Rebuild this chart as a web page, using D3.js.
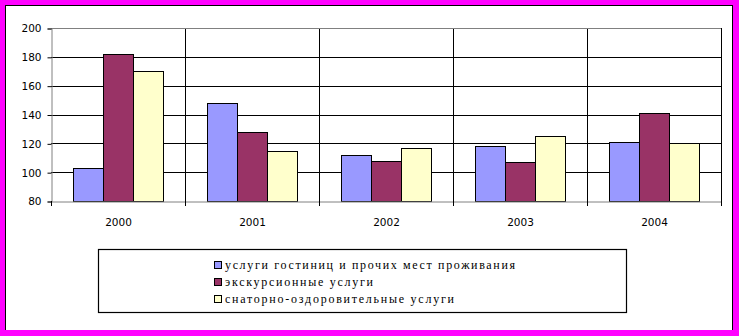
<!DOCTYPE html>
<html>
<head>
<meta charset="utf-8">
<script src="https://cdn.jsdelivr.net/npm/d3@7"></script>
<style>
  body { margin: 0; background: #ff00ff; }
  svg { display: block; }
</style>
</head>
<body>
<script>
const years = ['2000', '2001', '2002', '2003', '2004'];
const seriesNames = [
  'услуги гостиниц и прочих мест проживания',
  'экскурсионные услуги',
  'снаторно-оздоровительные услуги'
];
const hotels = [103, 148, 112, 118, 121];
const excursions = [182, 128, 107.5, 107, 141];
const sanatorium = [170, 114.5, 116.5, 125, 120];
const yTicks = [80, 100, 120, 140, 160, 180, 200];
const colors = ['#9999ff', '#993366', '#ffffcc'];

const width = 739, height = 336;
const allSeries = [hotels, excursions, sanatorium];

const svg = d3.select('body').append('svg')
  .attr('width', width)
  .attr('height', height);

// frame
svg.append('rect').attr('width', width).attr('height', height).attr('fill', '#ff00ff');
svg.append('rect')
  .attr('x', 5.5).attr('y', 5.5)
  .attr('width', 727).attr('height', 340)
  .attr('fill', '#fff').attr('stroke', '#000');
svg.append('rect').attr('x', 0).attr('y', 330).attr('width', width).attr('height', 6).attr('fill', '#ff00ff');

const pLeft = 51, pRight = 721, pTop = 28, pBottom = 201;

const x0 = d3.scaleBand().domain(years).range([pLeft, pRight]);
const x1 = d3.scaleBand().domain([0, 1, 2]).range([0, x0.bandwidth()]).paddingOuter(0.733);
const y = d3.scaleLinear().domain([80, 200]).range([pBottom, pTop]);

// horizontal gridlines
svg.append('g').selectAll('line')
  .data(yTicks.filter(d => d > 80 && d < 200))
  .enter().append('line')
  .attr('x1', pLeft).attr('x2', pRight)
  .attr('y1', d => Math.round(y(d)) + 0.5).attr('y2', d => Math.round(y(d)) + 0.5)
  .attr('stroke', '#000');

// vertical gridlines at category boundaries
svg.append('g').selectAll('line')
  .data(years.slice(1))
  .enter().append('line')
  .attr('x1', d => Math.round(x0(d)) + 0.5).attr('x2', d => Math.round(x0(d)) + 0.5)
  .attr('y1', pTop).attr('y2', pBottom)
  .attr('stroke', '#000');

svg.append('line')
  .attr('x1', pLeft).attr('x2', pRight)
  .attr('y1', pTop + 0.5).attr('y2', pTop + 0.5)
  .attr('stroke', '#808080');
svg.append('line')
  .attr('x1', pRight + 0.5).attr('x2', pRight + 0.5)
  .attr('y1', pTop).attr('y2', pBottom)
  .attr('stroke', '#000');

// bars
years.forEach((yr, i) => {
  allSeries.forEach((s, j) => {
    svg.append('rect')
      .attr('x', Math.round(x0(yr) + x1(j)) + 0.5)
      .attr('y', Math.round(y(s[i])) + 0.5)
      .attr('width', Math.round(x1.bandwidth()))
      .attr('height', Math.round(pBottom - y(s[i])))
      .attr('fill', colors[j])
      .attr('stroke', '#000');
  });
});

// y axis
const yAxis = svg.append('g')
  .attr('transform', `translate(${pLeft + 0.5},0.5)`)
  .call(d3.axisLeft(y).tickValues(yTicks).tickSize(4).tickPadding(6));
// x axis
const xAxis = svg.append('g')
  .attr('transform', `translate(0.5,${pBottom + 0.5})`)
  .call(d3.axisBottom(x0).tickSize(0).tickPadding(17));

[yAxis, xAxis].forEach(a => {
  a.select('.domain').attr('stroke', '#808080');
  a.selectAll('line').attr('stroke', '#000');
  a.selectAll('text')
    .attr('fill', '#000')
    .style('font-family', '"DejaVu Sans", Verdana, sans-serif')
    .style('font-size', '10.5px');
});

// x ticks at category boundaries
svg.append('g').selectAll('line')
  .data(years.concat(['end']))
  .enter().append('line')
  .attr('x1', d => Math.round(d === 'end' ? pRight : x0(d)) + 0.5)
  .attr('x2', d => Math.round(d === 'end' ? pRight : x0(d)) + 0.5)
  .attr('y1', pBottom).attr('y2', pBottom + 5)
  .attr('stroke', '#000');

// legend
svg.append('rect')
  .attr('x', 98.5).attr('y', 249.5)
  .attr('width', 528).attr('height', 63)
  .attr('fill', '#fff').attr('stroke', '#000').attr('stroke-width', 1.2);

const legendW = [290, 148, 229];
const leg = svg.append('g').selectAll('g')
  .data(seriesNames)
  .enter().append('g')
  .attr('transform', (d, i) => `translate(214,${265 + i * 17})`);
leg.append('rect')
  .attr('x', 0.5).attr('y', -3.5)
  .attr('width', 7).attr('height', 7)
  .attr('fill', (d, i) => colors[i])
  .attr('stroke', '#000');
leg.append('text')
  .attr('x', 11).attr('y', 4)
  .attr('textLength', (d, i) => legendW[i])
  .attr('lengthAdjust', 'spacing')
  .style('font-family', '"Liberation Serif", "Times New Roman", serif')
  .style('font-size', '12px')
  .text(d => d);
</script>
</body>
</html>
